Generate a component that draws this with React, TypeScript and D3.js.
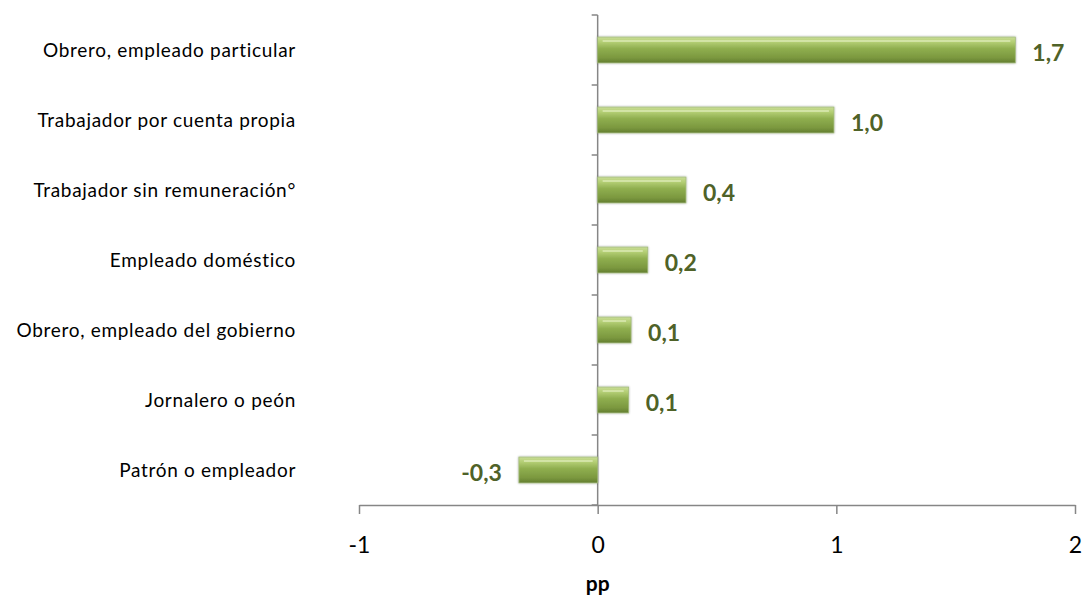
import React, { useEffect, useRef } from 'react';
import * as d3 from 'd3';

const categories = [
  'Obrero, empleado particular',
  'Trabajador por cuenta propia',
  'Trabajador sin remuneración°',
  'Empleado doméstico',
  'Obrero, empleado del gobierno',
  'Jornalero o peón',
  'Patrón o empleador',
];
const values = [1.75, 0.99, 0.37, 0.21, 0.14, 0.13, -0.33];
const valueLabels = ['1,7', '1,0', '0,4', '0,2', '0,1', '0,1', '-0,3'];
const xTicks = [-1, 0, 1, 2];

const width = 1085;
const height = 599;
const margin = { top: 15, right: 10, bottom: 94, left: 359 };
const font = 'Lato, "Open Sans", sans-serif';

const App: React.FC = () => {
  const svgRef = useRef<SVGSVGElement>(null);

  useEffect(() => {
    if (!svgRef.current) return;
    const svg = d3.select(svgRef.current);
    svg.selectAll('*').remove();

    const chartWidth = width - margin.left - margin.right;
    const chartHeight = height - margin.top - margin.bottom;

    const x = d3.scaleLinear().domain([-1, 2]).range([0, chartWidth]);
    const y = d3.scaleBand().domain(categories).range([0, chartHeight]).paddingInner(0.63).paddingOuter(0.315);

    const defs = svg.append('defs');
    const grad = defs.append('linearGradient')
      .attr('id', 'barGrad')
      .attr('x1', 0).attr('y1', 0).attr('x2', 0).attr('y2', 1);
    grad.append('stop').attr('offset', '0%').attr('stop-color', '#c9dd95');
    grad.append('stop').attr('offset', '20%').attr('stop-color', '#b2cd73');
    grad.append('stop').attr('offset', '45%').attr('stop-color', '#8fae4f');
    grad.append('stop').attr('offset', '80%').attr('stop-color', '#7b983f');
    grad.append('stop').attr('offset', '100%').attr('stop-color', '#627d2f');

    const shadow = defs.append('filter').attr('id', 'shadow')
      .attr('x', '-10%').attr('y', '-30%').attr('width', '120%').attr('height', '160%');
    shadow.append('feGaussianBlur').attr('in', 'SourceAlpha').attr('stdDeviation', 1.2).attr('result', 'b');
    shadow.append('feComponentTransfer').attr('in', 'b').attr('result', 's')
      .append('feFuncA').attr('type', 'linear').attr('slope', 0.35);
    const merge = shadow.append('feMerge');
    merge.append('feMergeNode').attr('in', 's');
    merge.append('feMergeNode').attr('in', 'SourceGraphic');

    const g = svg.append('g').attr('transform', `translate(${margin.left},${margin.top})`);

    const axisColor = '#868686';

    // x axis
    const xAxis = g.append('g')
      .attr('transform', `translate(0,${chartHeight})`)
      .call(d3.axisBottom(x).tickValues(xTicks).tickSize(9).tickSizeOuter(0).tickFormat(d => String(d)));
    xAxis.select('.domain').attr('stroke', axisColor).attr('stroke-width', 1.5);
    xAxis.selectAll('.tick line').attr('stroke', axisColor).attr('stroke-width', 1.5);
    xAxis.selectAll('.tick text')
      .attr('y', 32)
      .attr('fill', '#000')
      .style('font-family', font)
      .style('font-size', '23px');

    // y axis at zero
    const yAxis = g.append('g').attr('transform', `translate(${x(0)},0)`);
    yAxis.append('line')
      .attr('y1', 0).attr('y2', chartHeight)
      .attr('stroke', axisColor).attr('stroke-width', 1.5);
    const step = chartHeight / categories.length;
    yAxis.selectAll('line.tick')
      .data(d3.range(categories.length + 1))
      .enter()
      .append('line')
      .attr('class', 'tick')
      .attr('x1', -6).attr('x2', 0)
      .attr('y1', d => d * step).attr('y2', d => d * step)
      .attr('stroke', axisColor).attr('stroke-width', 1.5);

    // category labels
    g.selectAll('text.cat')
      .data(categories)
      .enter()
      .append('text')
      .attr('class', 'cat')
      .attr('x', 296 - margin.left)
      .attr('y', d => (y(d) || 0) + y.bandwidth() / 2)
      .attr('dy', '0.35em')
      .attr('text-anchor', 'end')
      .style('font-family', font)
      .style('font-size', '19px')
      .style('letter-spacing', '0.7px')
      .attr('fill', '#000')
      .text(d => d);

    // bars
    g.selectAll('rect.bar')
      .data(values)
      .enter()
      .append('rect')
      .attr('class', 'bar')
      .attr('x', d => x(Math.min(0, d)))
      .attr('y', (_, i) => y(categories[i]) || 0)
      .attr('width', d => Math.abs(x(d) - x(0)))
      .attr('height', y.bandwidth())
      .attr('fill', 'url(#barGrad)')
      .attr('stroke', '#a3bb7d')
      .attr('stroke-width', 0.8)
      .attr('filter', 'url(#shadow)');

    // bevel highlights
    g.selectAll('line.hl')
      .data(values)
      .enter()
      .append('line')
      .attr('class', 'hl')
      .attr('x1', d => x(Math.min(0, d)) + 5)
      .attr('x2', d => x(Math.max(0, d)) - 5)
      .attr('y1', (_, i) => (y(categories[i]) || 0) + 4)
      .attr('y2', (_, i) => (y(categories[i]) || 0) + 4)
      .attr('stroke', '#deebb8')
      .attr('stroke-opacity', 0.7)
      .attr('stroke-width', 2);

    // value labels
    g.selectAll('text.val')
      .data(values)
      .enter()
      .append('text')
      .attr('class', 'val')
      .attr('x', d => (d >= 0 ? x(d) + 17 : x(d) - 17))
      .attr('y', (_, i) => (y(categories[i]) || 0) + y.bandwidth() / 2 + 3)
      .attr('dy', '0.35em')
      .attr('text-anchor', d => (d >= 0 ? 'start' : 'end'))
      .style('font-family', font)
      .style('font-size', '23px')
      .style('font-weight', 'bold')
      .attr('fill', '#4f6228')
      .text((_, i) => valueLabels[i]);

    // axis title
    g.append('text')
      .attr('x', x(0))
      .attr('y', chartHeight + 86)
      .attr('text-anchor', 'middle')
      .style('font-family', font)
      .style('font-size', '21px')
      .style('font-weight', 'bold')
      .attr('fill', '#000')
      .text('pp');
  }, []);

  return (
    <svg
      ref={svgRef}
      width={width}
      height={height}
      style={{ position: 'absolute', left: 0, top: 0, background: '#fff' }}
    />
  );
};

export default App;
